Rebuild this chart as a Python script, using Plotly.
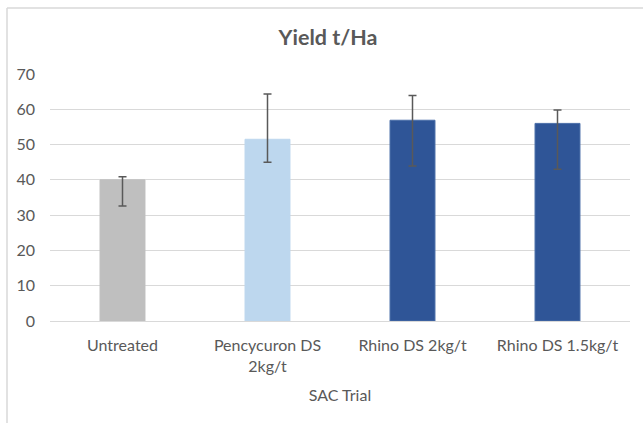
import plotly.graph_objects as go

categories = ["Untreated", "Pencycuron DS<br>2kg/t", "Rhino DS 2kg/t", "Rhino DS 1.5kg/t"]
yield_values = [40.0, 51.5, 56.9, 56.0]
err_plus = [0.9, 12.8, 7.0, 3.8]
err_minus = [7.4, 6.5, 13.0, 13.0]
bar_colors = ["#bfbfbf", "#bdd7ee", "#2f5597", "#2f5597"]
line_colors = ["#bfbfbf", "#bdd7ee", "#4a6ea8", "#4a6ea8"]
y_ticks = [0, 10, 20, 30, 40, 50, 60, 70]

W, H = 643, 423
ML, MR, MT, MB = 50, 13, 74, 102
PW, PH = W - ML - MR, H - MT - MB

def px_x(p):
    return (p - ML) / PW

def px_y(p):
    return (H - MB - p) / PH

fig = go.Figure()
fig.add_trace(go.Bar(
    x=categories,
    y=yield_values,
    width=0.31,
    marker=dict(color=bar_colors, line=dict(color=line_colors, width=1)),
    error_y=dict(
        type="data", symmetric=False,
        array=err_plus, arrayminus=err_minus,
        color="#595959", thickness=1.5, width=4,
    ),
))

font_family = "Lato, 'Open Sans', sans-serif"

fig.update_layout(
    width=W, height=H,
    margin=dict(l=ML, r=MR, t=MT, b=MB),
    paper_bgcolor="white", plot_bgcolor="white",
    showlegend=False,
    font=dict(family=font_family, color="#595959", size=16),
    title=dict(
        text="<b>Yield t/Ha</b>",
        x=328 / W, xanchor="center",
        y=1 - 37 / H, yanchor="middle",
        font=dict(size=21.5, color="#595959", family=font_family),
    ),
    xaxis=dict(
        showgrid=False, showline=True, linecolor="#d9d9d9", linewidth=1,
        ticks="", tickfont=dict(size=16, color="#595959"),
        ticklabelstandoff=10,
        title=dict(text="SAC Trial", standoff=15, font=dict(size=16, color="#595959")),
    ),
    yaxis=dict(
        range=[0, 70], tickvals=y_ticks, showgrid=True, gridcolor="#d9d9d9",
        gridwidth=1, zeroline=False, showline=False, ticks="",
        ticklabelstandoff=14,
        tickfont=dict(size=16, color="#595959"),
    ),
    shapes=[
        dict(type="line", xref="paper", yref="paper",
             x0=px_x(7), x1=px_x(W + 2), y0=px_y(8), y1=px_y(8),
             line=dict(color="#d9d9d9", width=1.5)),
        dict(type="line", xref="paper", yref="paper",
             x0=px_x(7), x1=px_x(7), y0=px_y(8), y1=px_y(H + 2),
             line=dict(color="#d9d9d9", width=1.5)),
    ],
)

fig.write_html("out.html", config={"displayModeBar": False},
               post_script="document.body.style.margin='0px';")
